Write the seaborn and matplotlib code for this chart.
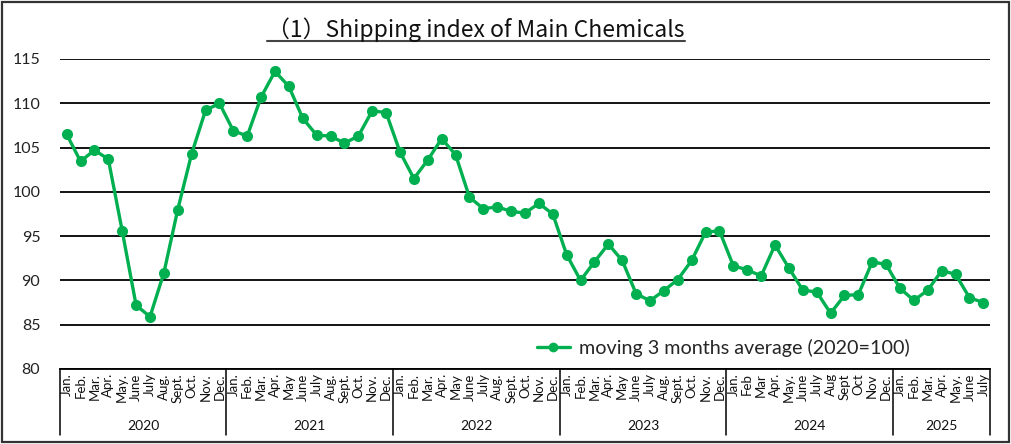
import numpy as np
import pandas as pd
import matplotlib
matplotlib.use("Agg")
import matplotlib.pyplot as plt
import seaborn as sns
from matplotlib.lines import Line2D
from matplotlib.patches import Rectangle
import matplotlib.transforms as mtransforms

years = ["2020", "2021", "2022", "2023", "2024", "2025"]
month_labels = [
    ["Jan.", "Feb.", "Mar.", "Apr.", "May.", "June", "July", "Aug.", "Sept.", "Oct.", "Nov.", "Dec."],
    ["Jan.", "Feb.", "Mar.", "Apr.", "May", "June", "July", "Aug.", "Sept.", "Oct.", "Nov.", "Dec."],
    ["Jan.", "Feb.", "Mar.", "Apr.", "May", "June", "July", "Aug.", "Sept.", "Oct.", "Nov.", "Dec."],
    ["Jan.", "Feb.", "Mar.", "Apr.", "May", "June", "July", "Aug.", "Sept.", "Oct.", "Nov.", "Dec."],
    ["Jan.", "Feb", "Mar", "Apr.", "May.", "June", "July", "Aug", "Sept", "Oct", "Nov", "Dec."],
    ["Jan.", "Feb.", "Mar.", "Apr.", "May.", "June", "July"],
]
values_2020 = [106.5, 103.45, 104.7, 103.7, 95.6, 87.2, 85.9, 90.85, 98.0, 104.3, 109.2, 110.0]
values_2021 = [106.9, 106.3, 110.7, 113.6, 111.9, 108.3, 106.4, 106.3, 105.5, 106.3, 109.15, 108.95]
values_2022 = [104.5, 101.5, 103.6, 106.0, 104.2, 99.4, 98.1, 98.3, 97.8, 97.6, 98.7, 97.5]
values_2023 = [92.9, 90.0, 92.1, 94.1, 92.25, 88.5, 87.7, 88.85, 90.1, 92.25, 95.45, 95.6]
values_2024 = [91.65, 91.2, 90.5, 94.0, 91.4, 88.9, 88.7, 86.3, 88.3, 88.4, 92.1, 91.8]
values_2025 = [89.1, 87.75, 88.9, 91.1, 90.7, 88.05, 87.5]
series_name = "moving 3 months average (2020=100)"
title_text = "（1）Shipping index of Main Chemicals"

all_values = values_2020 + values_2021 + values_2022 + values_2023 + values_2024 + values_2025
all_months = [m for ms in month_labels for m in ms]
df = pd.DataFrame({"idx": np.arange(len(all_values)), "value": all_values,
                   "series": series_name})

sns.set_theme(style="white")
plt.rcParams["font.family"] = ["Lato", "DejaVu Sans"]

green = "#00B050"
fig = plt.figure(figsize=(10.11, 4.44), dpi=100)
ax = fig.add_axes([59.7 / 1011, 1 - 369 / 444, (990.3 - 59.7) / 1011, (369 - 59) / 444])

sns.lineplot(data=df, x="idx", y="value", hue="series", palette=[green], marker="o",
             markersize=8, markeredgewidth=0, linewidth=2.4, ax=ax)

n = len(all_values)
ax.set_xlim(-0.5, n - 0.5)
ax.set_ylim(80, 115)
ax.set_yticks(np.arange(80, 116, 5))
ax.set_yticklabels([str(v) for v in range(80, 116, 5)], fontsize=11.5, color="#222222")
ax.yaxis.grid(True, color="black", linewidth=1.3)
ax.xaxis.grid(False)
for s in ["left", "right", "top"]:
    ax.spines[s].set_visible(False)
ax.spines["bottom"].set_color("black")
ax.spines["bottom"].set_linewidth(1.3)
ax.tick_params(axis="y", length=0, pad=14)
ax.set_xticks(np.arange(n))
ax.set_xticklabels(all_months, rotation=90, fontsize=9.5, color="#111111")
ax.tick_params(axis="x", length=0, pad=3)
ax.set_xlabel("")
ax.set_ylabel("")

# year group separators and labels
trans = mtransforms.blended_transform_factory(ax.transData, ax.transAxes)
start = 0
bounds = [-0.5]
for y, ms in zip(years, month_labels):
    end = start + len(ms)
    bounds.append(end - 0.5)
    ax.text((start + end - 1) / 2, -0.183, y, transform=trans, ha="center", va="center",
            fontsize=10, color="#111111")
    start = end
for b in bounds:
    ax.add_line(Line2D([b, b], [0, -0.213], transform=trans, color="black",
                       linewidth=1.1, clip_on=False))

leg = ax.legend(handles=[Line2D([0], [0], color=green, marker="o", markersize=7,
                                linewidth=2.4, markeredgewidth=0)],
                labels=[series_name], loc="center", bbox_to_anchor=(0.713, 0.068),
                frameon=False, fontsize=14.2, handlelength=1.65, handletextpad=0.45)

# title with underline
t = fig.text(476 / 1011, 1 - 30 / 444, title_text, ha="center", va="center", fontsize=16.5,
             family=["Noto Sans CJK JP", "DejaVu Sans"], color="#111111")
fig.canvas.draw()
bb = t.get_window_extent().transformed(fig.transFigure.inverted())
fig.add_artist(Line2D([bb.x0, bb.x1], [1 - 41 / 444, 1 - 41 / 444],
                      transform=fig.transFigure, color="#444444", linewidth=1.5))

# outer border
fig.add_artist(Rectangle((0.002, 0.004), 0.996, 0.992, transform=fig.transFigure,
                         fill=False, edgecolor="#333333", linewidth=1.6))

fig.savefig("out.png", dpi=100)
